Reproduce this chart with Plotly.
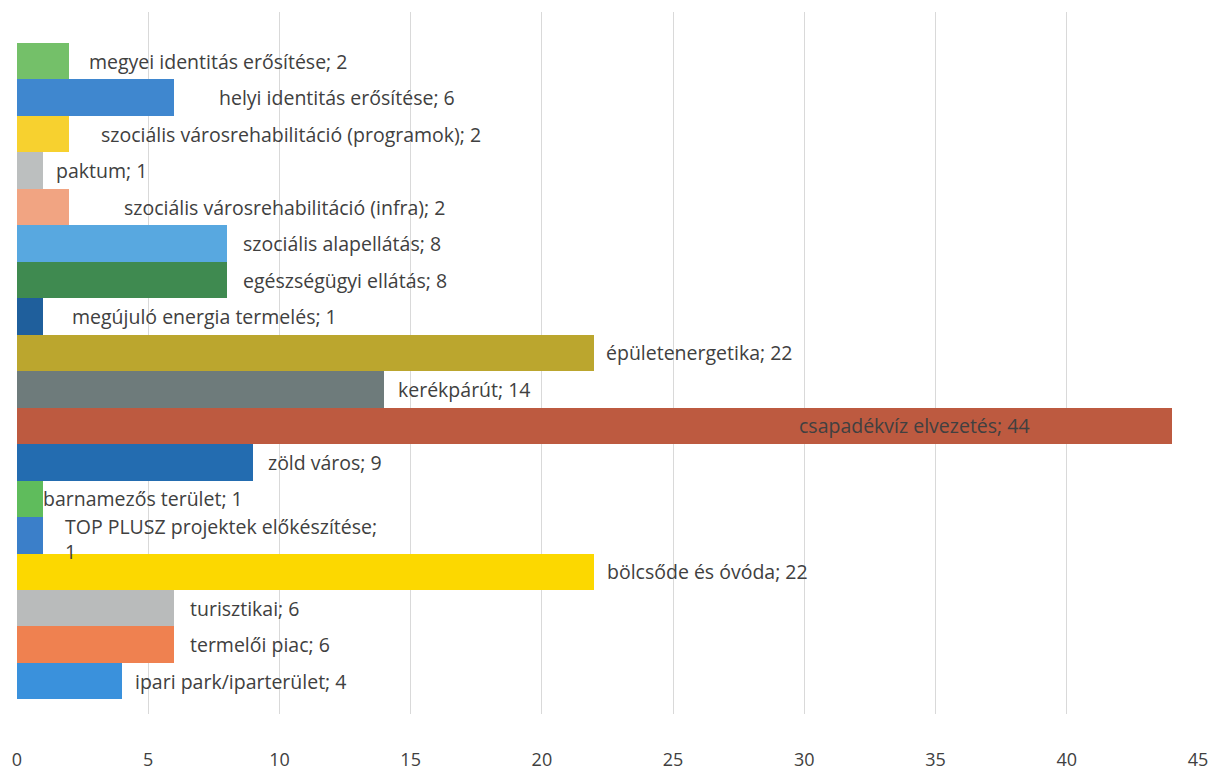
import plotly.graph_objects as go

categories = [
    "megyei identitás erősítése",
    "helyi identitás erősítése",
    "szociális városrehabilitáció (programok)",
    "paktum",
    "szociális városrehabilitáció (infra)",
    "szociális alapellátás",
    "egészségügyi ellátás",
    "megújuló energia termelés",
    "épületenergetika",
    "kerékpárút",
    "csapadékvíz elvezetés",
    "zöld város",
    "barnamezős terület",
    "TOP PLUSZ projektek előkészítése",
    "bölcsőde és óvóda",
    "turisztikai",
    "termelői piac",
    "ipari park/iparterület",
]
values = [2, 6, 2, 1, 2, 8, 8, 1, 22, 14, 44, 9, 1, 1, 22, 6, 6, 4]

colors = [
    "#74c069", "#3f87cf", "#f7d12f", "#bcbfbf", "#f1a482", "#58a8e0",
    "#3f8a50", "#1f5f9c", "#bba62e", "#6e7b7b", "#bd5a40", "#236cb0",
    "#5fbc5c", "#3b7fc9", "#fcd800", "#b9bbbb", "#ef8150", "#3a91dc",
]

# label placement (pixel offset from bar end; negative = inside, anchored right)
label_shift = [18, 43, 30, 11, 53, 14, 14, 27, 10, 12, -140, 13, -2, 20, 11, 14, 14, 11]
label_yshift = [0] * 18
label_yshift[13] = -4
label_break = [False] * 18
label_break[13] = True

text_color = "#404040"
font_family = "Open Sans, Noto Sans, Liberation Sans, sans-serif"

fig = go.Figure()
fig.add_trace(go.Bar(
    x=values,
    y=categories,
    orientation="h",
    marker=dict(color=colors, line=dict(width=0)),
    width=1.0,
    hoverinfo="x+y",
    showlegend=False,
))

annotations = []
for cat, val, sh, ys, br in zip(categories, values, label_shift, label_yshift, label_break):
    sep = ";<br>" if br else "; "
    annotations.append(dict(
        x=val, y=cat, xref="x", yref="y",
        text=f"{cat}{sep}{val}",
        showarrow=False,
        xanchor="left" if sh >= -5 else "right",
        xshift=sh,
        yshift=ys,
        align="left",
        font=dict(family=font_family, size=19.5, color=text_color),
    ))

fig.update_layout(
    width=1212, height=767,
    margin=dict(l=7, r=22, t=4, b=57),
    paper_bgcolor="white",
    plot_bgcolor="white",
    bargap=0,
    annotations=annotations,
    font=dict(family=font_family, color=text_color),
)
fig.update_xaxes(
    range=[0, 45],
    tick0=0, dtick=5,
    showgrid=True, gridcolor="#d9d9d9", gridwidth=1,
    zeroline=False,
    showline=False,
    ticks="",
    tickfont=dict(family=font_family, size=18, color=text_color),
    ticklabelstandoff=33,
    fixedrange=True,
)
fig.update_yaxes(
    categoryorder="array",
    categoryarray=categories,
    range=[17.9, -1.35],
    showticklabels=False,
    showgrid=False,
    zeroline=False,
    showline=False,
    ticks="",
    fixedrange=True,
)

fig.write_html("out.html")
